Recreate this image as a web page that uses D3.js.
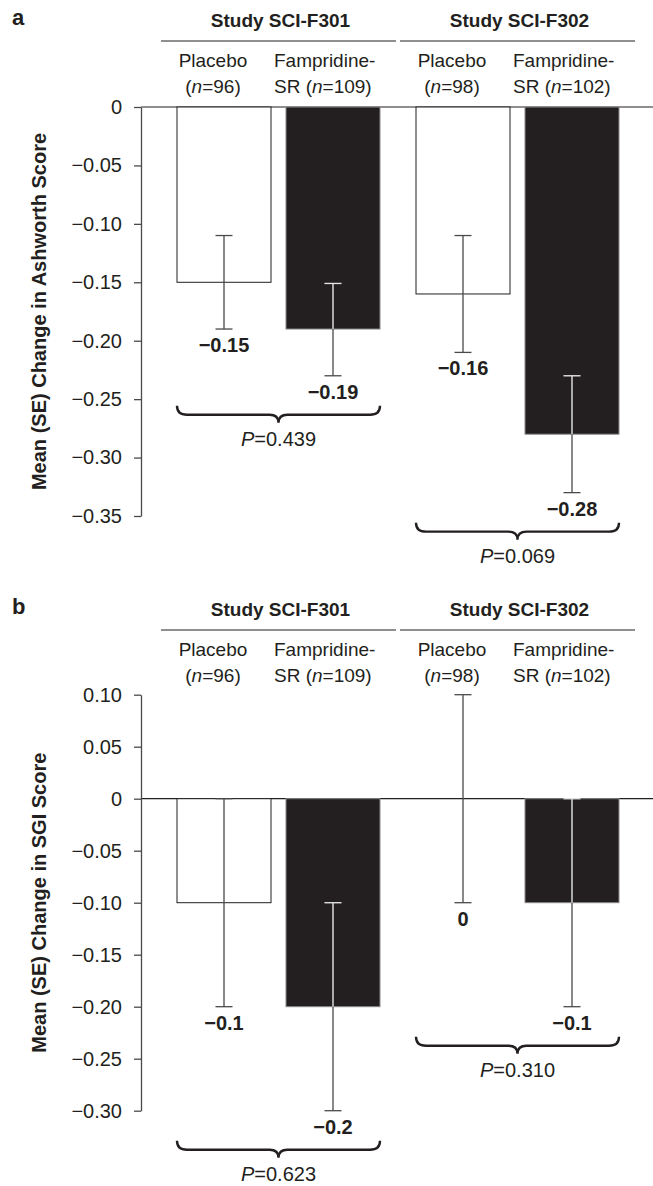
<!DOCTYPE html>
<html lang="en">
<head>
	<meta charset="UTF-8">
	<title>Ashworth and SGI change</title>
	<script src="https://cdn.jsdelivr.net/npm/d3@7"></script>
	<style>
		body { margin: 0; background: #fff; }
		text { font-family: "Liberation Sans", Arial, Helvetica, sans-serif; fill: #231f20; }
	</style>
</head>
<body>
<script type="text/javascript">

	// categories
	var studies = ['Study SCI-F301', 'Study SCI-F302'];
	var arms = ['Placebo', 'Fampridine-SR'];
	var nCounts = [96, 109, 98, 102];

	// panel a: Ashworth score
	var ashMean = [-0.15, -0.19, -0.16, -0.28];
	var ashHi = [-0.11, -0.151, -0.11, -0.23];
	var ashLo = [-0.19, -0.23, -0.21, -0.33];
	var ashLabels = ['\u22120.15', '\u22120.19', '\u22120.16', '\u22120.28'];
	var ashP = ['0.439', '0.069'];
	var ashTicks = [0, -0.05, -0.10, -0.15, -0.20, -0.25, -0.30, -0.35];

	// panel b: SGI score
	var sgiMean = [-0.1, -0.2, 0, -0.1];
	var sgiHi = [0, -0.1, 0.1, 0];
	var sgiLo = [-0.2, -0.3, -0.1, -0.2];
	var sgiLabels = ['\u22120.1', '\u22120.2', '0', '\u22120.1'];
	var sgiP = ['0.623', '0.310'];
	var sgiTicks = [0.10, 0.05, 0, -0.05, -0.10, -0.15, -0.20, -0.25, -0.30];

	var width = 653, height = 1186;

	var svg = d3.select('body').append('svg')
		.attr('width', width)
		.attr('height', height);

	var xStudy = d3.scaleBand()
		.domain(studies)
		.range([177, 619])
		.paddingInner(36 / 239)
		.paddingOuter(0);

	var xArm = d3.scaleBand()
		.domain(arms)
		.range([0, xStudy.bandwidth()])
		.paddingInner(15 / 109)
		.paddingOuter(0);

	var fmt = function (d) {
		return d === 0 ? '0' : d3.format('.2f')(d);
	};

	function drawPanel(p) {
		var g = svg.append('g');
		var top = p.top;

		var y = d3.scaleLinear()
			.domain([p.ticks[0], p.ticks[p.ticks.length - 1]])
			.range(p.range);

		var rows = p.mean.map(function (m, i) {
			return {
				study: studies[Math.floor(i / 2)],
				arm: arms[i % 2],
				n: nCounts[i],
				mean: m, hi: p.hi[i], lo: p.lo[i],
				label: p.labels[i]
			};
		});
		var bx = function (d) { return xStudy(d.study) + xArm(d.arm); };
		var cx = function (d) { return bx(d) + xArm.bandwidth() / 2; };

		// panel letter
		g.append('text')
			.attr('x', 12).attr('y', top + 25)
			.style('font-size', '22px').style('font-weight', 'bold')
			.text(p.letter);

		// study headers
		var sh = g.append('g').selectAll('g').data(studies).enter().append('g');
		sh.append('text')
			.attr('x', function (s) { return xStudy(s) + xStudy.bandwidth() / 2 + 2; })
			.attr('y', top + 27)
			.attr('text-anchor', 'middle')
			.style('font-size', '19px').style('font-weight', 'bold')
			.text(function (s) { return s; });
		sh.append('line')
			.attr('x1', function (s) { return xStudy(s) - 16; })
			.attr('x2', function (s) { return xStudy(s) + xStudy.bandwidth() + 16; })
			.attr('y1', top + 41).attr('y2', top + 41)
			.attr('stroke', '#231f20').attr('stroke-width', 1.2);

		// arm headers
		rows.forEach(function (d) {
			var isPl = d.arm === 'Placebo';
			var tx = isPl ? cx(d) - 11 : bx(d) - 12;
			var anchor = isPl ? 'middle' : 'start';
			g.append('text')
				.attr('x', tx).attr('y', top + 67)
				.attr('text-anchor', anchor)
				.style('font-size', '19px')
				.text(isPl ? 'Placebo' : 'Fampridine-');
			var t2 = g.append('text')
				.attr('x', tx).attr('y', top + 93)
				.attr('text-anchor', anchor)
				.style('font-size', '19px');
			t2.append('tspan').text(isPl ? '(' : 'SR (');
			t2.append('tspan').style('font-style', 'italic').text('n');
			t2.append('tspan').text('=' + d.n + ')');
		});

		// zero line
		g.append('line')
			.attr('x1', 141).attr('x2', width)
			.attr('y1', y(0)).attr('y2', y(0))
			.attr('stroke', '#231f20').attr('stroke-width', 1.2);

		// bars
		g.append('g').selectAll('rect').data(rows).enter().append('rect')
			.attr('x', bx)
			.attr('y', y(0))
			.attr('width', xArm.bandwidth())
			.attr('height', function (d) { return y(d.mean) - y(0); })
			.attr('fill', function (d) { return d.arm === 'Placebo' ? '#fff' : '#231f20'; })
			.attr('stroke', function (d) { return d.arm === 'Placebo' ? '#231f20' : '#8a8a8a'; })
			.attr('stroke-width', 1);

		// error bars
		var capW = 8.5;
		rows.forEach(function (d) {
			var c = cx(d);
			var yT = y(d.hi), yB = y(d.lo);
			var eg = g.append('g').attr('stroke', '#4a4a4a').attr('stroke-width', 1.3);
			eg.append('line').attr('x1', c).attr('x2', c).attr('y1', yT).attr('y2', yB);
			eg.append('line').attr('x1', c - capW).attr('x2', c + capW).attr('y1', yT).attr('y2', yT);
			eg.append('line').attr('x1', c - capW).attr('x2', c + capW).attr('y1', yB).attr('y2', yB);
			if (d.arm !== 'Placebo') {
				var b0 = y(0), b1 = y(d.mean);
				var s0 = Math.max(b0, yT), s1 = Math.min(b1, yB);
				var wg = g.append('g').attr('stroke', '#e6e6e6').attr('stroke-width', 1.3);
				if (s1 > s0) wg.append('line').attr('x1', c).attr('x2', c).attr('y1', s0).attr('y2', s1);
				[yT, yB].forEach(function (yy) {
					if (yy >= b0 - 0.5 && yy <= b1 + 0.5) {
						wg.append('line').attr('x1', c - capW).attr('x2', c + capW).attr('y1', yy).attr('y2', yy);
					}
				});
			}
		});

		// value labels
		g.append('g').selectAll('text').data(rows).enter().append('text')
			.attr('x', cx)
			.attr('y', function (d) { return y(d.lo) + 23; })
			.attr('text-anchor', 'middle')
			.style('font-size', '20px').style('font-weight', 'bold')
			.text(function (d) { return d.label; });

		// braces + p values
		studies.forEach(function (s, si) {
			var grp = rows.filter(function (d) { return d.study === s; });
			var low = d3.max(grp, function (d) { return y(d.lo); });
			var t = low + 30;
			var x0 = xStudy(s), x1 = xStudy(s) + xStudy.bandwidth();
			var m = (x0 + x1) / 2;
			var path = d3.path();
			path.moveTo(x0, t);
			path.quadraticCurveTo(x0, t + 9, x0 + 10, t + 9);
			path.lineTo(m - 9, t + 9);
			path.quadraticCurveTo(m, t + 9, m, t + 17);
			path.quadraticCurveTo(m, t + 9, m + 9, t + 9);
			path.lineTo(x1 - 10, t + 9);
			path.quadraticCurveTo(x1, t + 9, x1, t);
			g.append('path')
				.attr('d', path.toString())
				.attr('fill', 'none')
				.attr('stroke', '#231f20')
				.attr('stroke-width', 2.4);
			var pt = g.append('text')
				.attr('x', m).attr('y', t + 40)
				.attr('text-anchor', 'middle')
				.style('font-size', '20px');
			pt.append('tspan').style('font-style', 'italic').text('P');
			pt.append('tspan').text('=' + p.pvals[si]);
		});

		// axis
		var ax = g.append('g')
			.attr('transform', 'translate(141,0)')
			.call(d3.axisLeft(y).tickValues(p.ticks).tickFormat(fmt).tickSize(7).tickSizeOuter(0).tickPadding(12));
		ax.select('.domain').attr('stroke', '#4a4a4a').attr('stroke-width', 1.3);
		ax.selectAll('.tick line').attr('stroke', '#4a4a4a').attr('stroke-width', 1.3);
		ax.selectAll('.tick text')
			.attr('fill', '#231f20')
			.style('font-size', '20px')
			.style('font-family', '"Liberation Sans", Arial, sans-serif');

		// axis title
		var mid = (p.range[0] + p.range[1]) / 2;
		g.append('text')
			.attr('transform', 'translate(46,' + mid + ') rotate(-90)')
			.attr('text-anchor', 'middle')
			.style('font-size', '20px').style('font-weight', 'bold')
			.text(p.title);
	}

	drawPanel({
		top: 0, letter: 'a',
		title: 'Mean (SE) Change in Ashworth Score',
		mean: ashMean, hi: ashHi, lo: ashLo, labels: ashLabels, pvals: ashP,
		ticks: ashTicks, range: [107, 516]
	});

	drawPanel({
		top: 589, letter: 'b',
		title: 'Mean (SE) Change in SGI Score',
		mean: sgiMean, hi: sgiHi, lo: sgiLo, labels: sgiLabels, pvals: sgiP,
		ticks: sgiTicks, range: [694.7, 1110.7]
	});

</script>
</body>
</html>
